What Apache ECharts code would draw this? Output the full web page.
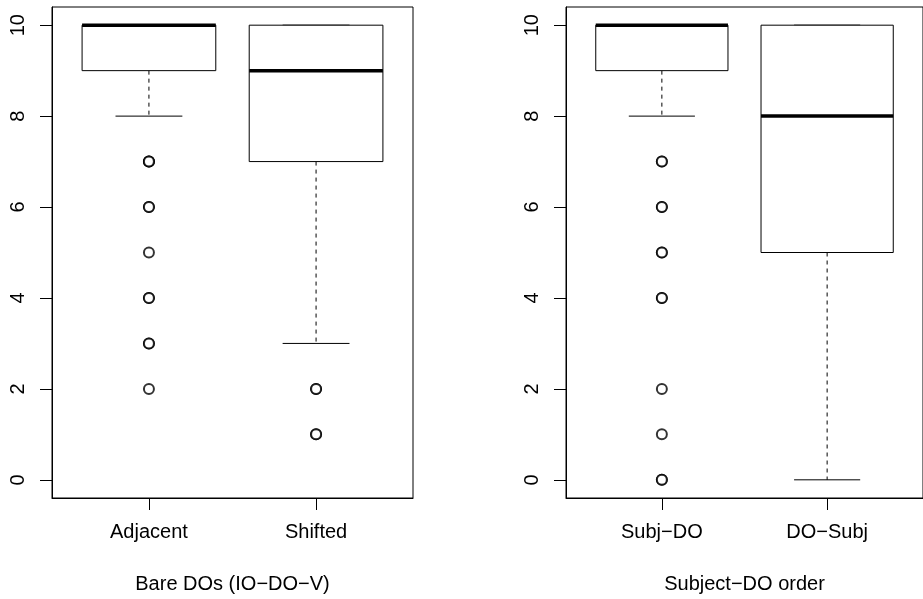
<!DOCTYPE html>
<html><head><meta charset="utf-8">
<script src="https://cdn.jsdelivr.net/npm/echarts@6/dist/echarts.min.js"></script>
<style>html,body{margin:0;padding:0;background:#fff}#c{width:923px;height:599px}</style>
</head><body><div id="c"></div>
<script>
const leftCategories = ['Adjacent', 'Shifted'];
const rightCategories = ['Subj\u2212DO', 'DO\u2212Subj'];
const leftTitle = 'Bare DOs (IO\u2212DO\u2212V)';
const rightTitle = 'Subject\u2212DO order';
// [lowerWhisker, Q1, median, Q3, upperWhisker]
const leftBoxes = [[8, 9, 10, 10, 10], [3, 7, 9, 10, 10]];
const rightBoxes = [[8, 9, 10, 10, 10], [0, 5, 8, 10, 10]];
const leftOutliers = [[7, 7, 7, 6, 6, 5, 4, 4, 3, 3, 2], [2, 2, 1, 1]];
const rightOutliers = [[7, 7, 6, 6, 5, 5, 4, 4, 2, 1, 0, 0], []];
const yTicks = [0, 2, 4, 6, 8, 10];

const FONT = 'Liberation Sans, Arial, Helvetica, sans-serif';

function renderBox(params, api) {
  const x = api.value(0);
  const lo = api.value(1), q1 = api.value(2), med = api.value(3), q3 = api.value(4), hi = api.value(5);
  const bw = 0.4, cw = 0.2;
  const p = (a, b) => api.coord([a, b]);
  const ch = [];
  const line = (a, b, w, dash) => ({
    type: 'line',
    shape: { x1: a[0], y1: a[1], x2: b[0], y2: b[1] },
    style: { stroke: '#000', lineWidth: w, lineDash: dash || null }
  });
  ch.push(line(p(x, q1), p(x, lo), 1, [4, 4]));
  ch.push(line(p(x - cw, lo), p(x + cw, lo), 1));
  ch.push(line(p(x, q3), p(x, hi), 1, [4, 4]));
  ch.push(line(p(x - cw, hi), p(x + cw, hi), 1));
  const tl = p(x - bw, q3), br = p(x + bw, q1);
  ch.push({ type: 'rect', shape: { x: tl[0], y: tl[1], width: br[0] - tl[0], height: br[1] - tl[1] },
    style: { fill: '#fff', stroke: '#000', lineWidth: 1 } });
  ch.push(line(p(x - bw, med), p(x + bw, med), 3.5));
  return { type: 'group', children: ch };
}

function panel(idx, cats, title, boxes, outs) {
  const xAxis = {
    type: 'value', gridIndex: idx, min: 0.42, max: 2.58, position: 'bottom',
    axisLine: { show: true, onZero: false, lineStyle: { color: '#000', width: 1 } }, splitLine: { show: false },
    axisTick: { show: true, customValues: [1, 2], length: 12, lineStyle: { color: '#000', width: 1 } },
    axisLabel: { show: true, customValues: [1, 2], margin: 24, fontSize: 20, color: '#000', fontFamily: FONT,
      formatter: v => cats[Math.round(v) - 1] || '' },
    name: title, nameLocation: 'middle', nameGap: 76,
    nameTextStyle: { fontSize: 20, color: '#000', fontFamily: FONT }
  };
  const yAxis = {
    type: 'value', gridIndex: idx, min: -0.4, max: 10.4, position: 'left',
    axisLine: { show: true, onZero: false, lineStyle: { color: '#000', width: 1 } }, splitLine: { show: false },
    axisTick: { show: true, customValues: yTicks, length: 12, lineStyle: { color: '#000', width: 1 } },
    axisLabel: { show: true, customValues: yTicks, rotate: 90, margin: 24, fontSize: 20, color: '#000', fontFamily: FONT }
  };
  const boxData = boxes.map((b, i) => [i + 1].concat(b));
  const outData = [];
  outs.forEach((arr, i) => arr.forEach(v => outData.push([i + 1, v])));
  const series = [
    { type: 'custom', xAxisIndex: idx, yAxisIndex: idx, renderItem: renderBox, data: boxData,
      encode: { x: 0, y: [1, 2, 3, 4, 5] }, silent: true, z: 2 },
    { type: 'scatter', xAxisIndex: idx, yAxisIndex: idx, data: outData, symbol: 'emptyCircle', symbolSize: 10,
      itemStyle: { color: '#000', borderColor: '#000', borderWidth: 1.2 }, silent: true, z: 3 }
  ];
  return { xAxis, yAxis, series };
}

const L = panel(0, leftCategories, leftTitle, leftBoxes, leftOutliers);
const R = panel(1, rightCategories, rightTitle, rightBoxes, rightOutliers);

const chart = echarts.init(document.getElementById('c'), null, { renderer: 'canvas' });
chart.setOption({
  animation: false,
  backgroundColor: '#fff',
  textStyle: { fontFamily: FONT },
  grid: [
    { left: 52, top: 7, width: 361, height: 492, show: true, borderColor: '#000', borderWidth: 1, backgroundColor: 'transparent' },
    { left: 566, top: 7, width: 361, height: 492, show: true, borderColor: '#000', borderWidth: 1, backgroundColor: 'transparent' }
  ],
  xAxis: [L.xAxis, R.xAxis],
  yAxis: [L.yAxis, R.yAxis],
  series: L.series.concat(R.series)
});
</script></body></html>
